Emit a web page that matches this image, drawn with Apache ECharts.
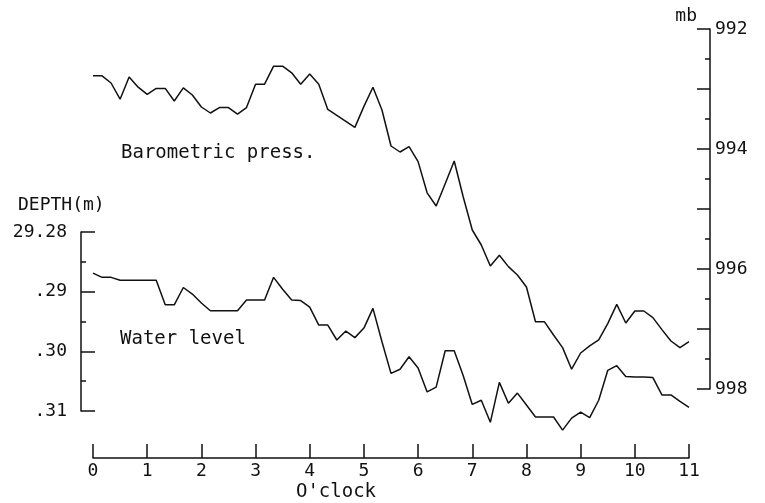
<!DOCTYPE html>
<html>
<head>
<meta charset="utf-8">
<script src="https://cdn.jsdelivr.net/npm/echarts@6/dist/echarts.min.js"></script>
<style>
  html, body { margin: 0; padding: 0; background: #fff; }
  #chart { width: 765px; height: 503px; }
</style>
</head>
<body>
<div id="chart"></div>
<script>
// time of each reading, minutes after 0 o'clock (10 min steps)
var minutes = [0, 10, 20, 30, 40, 50, 60, 70, 80, 90, 100, 110, 120, 130, 140, 150, 160, 170, 180, 190,
    200, 210, 220, 230, 240, 250, 260, 270, 280, 290, 300, 310, 320, 330, 340, 350, 360, 370, 380, 390,
    400, 410, 420, 430, 440, 450, 460, 470, 480, 490, 500, 510, 520, 530, 540, 550, 560, 570, 580, 590,
    600, 610, 620, 630, 640, 650, 660];

// barometric pressure, mb
var pressure = [992.78, 992.78, 992.90, 993.17, 992.80, 992.97, 993.09, 992.99, 992.99, 993.20,
    992.98, 993.10, 993.30, 993.40, 993.31, 993.31, 993.42, 993.31, 992.92, 992.92,
    992.62, 992.62, 992.73, 992.92, 992.75, 992.92, 993.34, 993.44, 993.54, 993.64,
    993.29, 992.97, 993.35, 993.95, 994.05, 993.96, 994.21, 994.73, 994.95, 994.58,
    994.20, 994.80, 995.35, 995.60, 995.95, 995.77, 995.96, 996.10, 996.30, 996.88,
    996.88, 997.10, 997.31, 997.67, 997.40, 997.28, 997.18, 996.91, 996.59, 996.90,
    996.70, 996.70, 996.81, 997.01, 997.20, 997.31, 997.21];

// water level, depth in m
var depth = [29.2869, 29.2876, 29.2876, 29.2881, 29.2881, 29.2881, 29.2881, 29.2881, 29.2922, 29.2922,
    29.2893, 29.2904, 29.2919, 29.2932, 29.2932, 29.2932, 29.2932, 29.2914, 29.2914, 29.2914,
    29.2876, 29.2896, 29.2914, 29.2915, 29.2926, 29.2956, 29.2956, 29.2981, 29.2966, 29.2977,
    29.2961, 29.2928, 29.2984, 29.3037, 29.3030, 29.3009, 29.3028, 29.3068, 29.3060, 29.2999,
    29.2999, 29.3041, 29.3089, 29.3082, 29.3119, 29.3052, 29.3087, 29.3070, 29.3090, 29.3110,
    29.3110, 29.3110, 29.3132, 29.3112, 29.3102, 29.3111, 29.3082, 29.3032, 29.3024, 29.3042,
    29.3043, 29.3043, 29.3044, 29.3073, 29.3073, 29.3084, 29.3094];

var hourLabels = ['0', '1', '2', '3', '4', '5', '6', '7', '8', '9', '10', '11'];
var depthLabels = ['29.28', '.29', '.30', '.31'];
var pressLabels = ['992', '', '994', '', '996', '', '998'];

var FONT = '"DejaVu Sans Mono", monospace';
var INK = '#111';

var chart = echarts.init(document.getElementById('chart'), null, {renderer: 'canvas'});

function pairs(vals) {
    var out = [];
    for (var i = 0; i < minutes.length; i++) out.push([minutes[i], vals[i]]);
    return out;
}

var option = {
    backgroundColor: '#fff',
    animation: false,
    grid: [
        // water level
        {left: 93, right: 76, top: 232, height: 179},
        // barometric pressure
        {left: 93, right: 76, top: 29, height: 360}
    ],
    xAxis: [
        {
            gridIndex: 0, type: 'value', min: 0, max: 660, interval: 60,
            offset: 47,
            axisLine: {onZero: false, lineStyle: {color: INK, width: 1.5}},
            axisTick: {inside: true, length: 14, lineStyle: {color: INK, width: 1.5}},
            axisLabel: {
                margin: 4, color: INK, fontFamily: FONT, fontSize: 18,
                formatter: function (v) { return hourLabels[Math.round(v / 60)]; }
            },
            splitLine: {show: false}
        },
        {gridIndex: 1, type: 'value', min: 0, max: 660, show: false}
    ],
    yAxis: [
        {
            gridIndex: 0, type: 'value', inverse: true,
            min: 29.28, max: 29.31, interval: 0.01,
            position: 'left', offset: 12,
            axisLine: {show: true, onZero: false, lineStyle: {color: INK, width: 1.5}},
            axisTick: {show: true, inside: true, length: 14, lineStyle: {color: INK, width: 1.5}},
            minorTick: {show: true, splitNumber: 2, length: 5, lineStyle: {color: INK, width: 1.5}},
            axisLabel: {
                margin: 14, color: INK, fontFamily: FONT, fontSize: 18,
                formatter: function (v) { return depthLabels[Math.round((v - 29.28) * 100)]; }
            },
            splitLine: {show: false}
        },
        {
            gridIndex: 1, type: 'value', inverse: true,
            min: 992, max: 998, interval: 1,
            position: 'right', offset: 21,
            axisLine: {show: true, onZero: false, lineStyle: {color: INK, width: 1.5}},
            axisTick: {show: true, inside: true, length: 13, lineStyle: {color: INK, width: 1.5}},
            minorTick: {show: true, splitNumber: 2, length: 5, lineStyle: {color: INK, width: 1.5}},
            axisLabel: {
                margin: 5, color: INK, fontFamily: FONT, fontSize: 18,
                formatter: function (v) { return pressLabels[Math.round(v - 992)]; }
            },
            splitLine: {show: false}
        }
    ],
    series: [
        {
            name: 'Water level', type: 'line', xAxisIndex: 0, yAxisIndex: 0,
            data: pairs(depth), symbol: 'none', clip: false,
            lineStyle: {color: INK, width: 1.5}
        },
        {
            name: 'Barometric press.', type: 'line', xAxisIndex: 1, yAxisIndex: 1,
            data: pairs(pressure), symbol: 'none', clip: false,
            lineStyle: {color: INK, width: 1.5}
        }
    ],
    graphic: [
        {type: 'text', x: 121, y: 153, style: {text: 'Barometric press.', font: '19px ' + FONT, fill: INK, textVerticalAlign: 'middle'}},
        {type: 'text', x: 120, y: 339, style: {text: 'Water level', font: '19px ' + FONT, fill: INK, textVerticalAlign: 'middle'}},
        {type: 'text', x: 18, y: 205, style: {text: 'DEPTH(m)', font: '18px ' + FONT, fill: INK, textVerticalAlign: 'middle'}},
        {type: 'text', x: 697, y: 16, style: {text: 'mb', font: '18px ' + FONT, fill: INK, textAlign: 'right', textVerticalAlign: 'middle'}},
        {type: 'text', x: 336, y: 492, style: {text: "O'clock", font: '19px ' + FONT, fill: INK, textAlign: 'center', textVerticalAlign: 'middle'}}
    ]
};

chart.setOption(option);
</script>
</body>
</html>
